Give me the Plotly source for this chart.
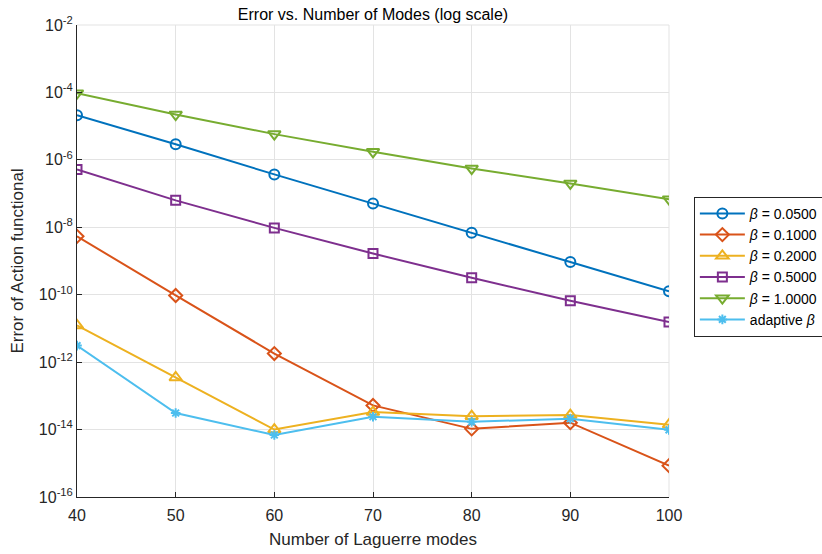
import plotly.graph_objects as go

# Number of Laguerre modes
modes = [40, 50, 60, 70, 80, 90, 100]

# Error of the action functional for each beta
err_b005 = [2.1e-5, 2.9e-6, 3.7e-7, 5.1e-8, 6.9e-9, 9.3e-10, 1.26e-10]
err_b010 = [5.4e-9, 9.5e-11, 1.8e-12, 5.2e-14, 1.05e-14, 1.6e-14, 8.5e-16]
err_b020 = [1.23e-11, 3.5e-13, 1.0e-14, 3.3e-14, 2.5e-14, 2.7e-14, 1.4e-14]
err_b050 = [5.2e-7, 6.3e-8, 9.6e-9, 1.66e-9, 3.2e-10, 6.6e-11, 1.55e-11]
err_b100 = [9.5e-5, 2.2e-5, 5.8e-6, 1.73e-6, 5.5e-7, 2.0e-7, 6.8e-8]
err_adapt = [3.1e-12, 3.1e-14, 6.9e-15, 2.4e-14, 1.7e-14, 2.1e-14, 9.8e-15]

series_names = ["<i>β</i> = 0.0500", "<i>β</i> = 0.1000", "<i>β</i> = 0.2000",
                "<i>β</i> = 0.5000", "<i>β</i> = 1.0000", "adaptive <i>β</i>"]
series_vals = [err_b005, err_b010, err_b020, err_b050, err_b100, err_adapt]
colors = ["#0072BD", "#D95319", "#EDB120", "#7E2F8E", "#77AC30", "#4DBEEE"]
symbols = ["circle-open", "diamond-open", "triangle-up-open", "square-open",
           "triangle-down-open", "asterisk-open"]
sizes = [10, 10, 11, 9, 11, 8]

# y-axis decade labels
ytick_exps = [-2, -4, -6, -8, -10, -12, -14, -16]
ytick_vals = [10.0 ** e for e in ytick_exps]
ytick_text = [f"10<sup>{e}</sup>" for e in ytick_exps]
xtick_vals = modes

fig = go.Figure()
for name, vals, c, s, sz in zip(series_names, series_vals, colors, symbols, sizes):
    fig.add_trace(go.Scatter(
        x=modes, y=vals, name=name, mode="lines+markers",
        line=dict(color=c, width=2),
        marker=dict(symbol=s, size=sz, color=c, line=dict(color=c, width=2)),
    ))

font_family = "Liberation Sans, Arial, sans-serif"
fig.update_layout(
    width=822, height=554,
    margin=dict(l=77, r=153, t=25, b=57, autoexpand=False),
    paper_bgcolor="white", plot_bgcolor="white",
    font=dict(family=font_family, size=15, color="#262626"),
    title=dict(text="Error vs. Number of Modes (log scale)", x=(77 + 669) / 2 / 822,
               xanchor="center", y=1 - 14 / 554, yanchor="middle",
               font=dict(size=16, color="#000000")),
    legend=dict(x=1.042, y=0.636, xanchor="left", yanchor="top",
                bgcolor="white", bordercolor="#262626", borderwidth=1,
                font=dict(size=14, color="#000000"), tracegroupgap=0,
                itemwidth=45),
    showlegend=True,
)
fig.update_xaxes(
    range=[40, 100], tickvals=xtick_vals,
    title=dict(text="Number of Laguerre modes", standoff=9, font=dict(size=17)),
    showgrid=True, gridcolor="#e3e3e3", gridwidth=1,
    showline=True, linecolor="#262626", linewidth=1,
    ticks="inside", ticklen=5, tickcolor="#262626",
    tickfont=dict(size=16), ticklabelstandoff=4, zeroline=False,
)
fig.update_yaxes(
    type="log", range=[-16, -2], tickvals=ytick_vals, ticktext=ytick_text,
    title=dict(text="Error of Action functional", standoff=10, font=dict(size=17)),
    showgrid=True, gridcolor="#e3e3e3", gridwidth=1,
    showline=True, linecolor="#262626", linewidth=1,
    ticks="inside", ticklen=5, tickcolor="#262626",
    tickfont=dict(size=16), zeroline=False,
)
# light frame on top/right like the grid
fig.add_shape(type="line", xref="paper", yref="paper", x0=0, x1=1, y0=1, y1=1,
              line=dict(color="#e3e3e3", width=1), layer="below")
fig.add_shape(type="line", xref="paper", yref="paper", x0=1, x1=1, y0=0, y1=1,
              line=dict(color="#e3e3e3", width=1), layer="below")

fig.write_html("out.html")
